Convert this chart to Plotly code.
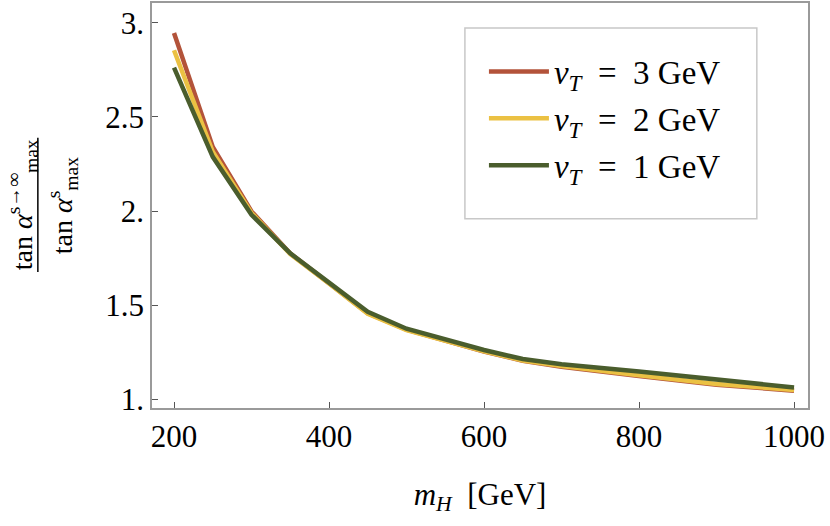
import plotly.graph_objects as go

# data
m_H = [200, 250, 300, 350, 400, 450, 500, 600, 650, 700, 800, 900, 1000]
ratio_vT3 = [2.946, 2.341, 1.998, 1.775, 1.617, 1.457, 1.370, 1.254, 1.205, 1.173, 1.124, 1.078, 1.046]
ratio_vT2 = [2.854, 2.315, 1.990, 1.772, 1.615, 1.455, 1.368, 1.255, 1.206, 1.177, 1.128, 1.082, 1.050]
ratio_vT1 = [2.762, 2.288, 1.980, 1.775, 1.620, 1.465, 1.375, 1.262, 1.214, 1.186, 1.148, 1.105, 1.063]

series_names = ["<i>v</i><sub><i>T</i></sub>  =  3 GeV",
                "<i>v</i><sub><i>T</i></sub>  =  2 GeV",
                "<i>v</i><sub><i>T</i></sub>  =  1 GeV"]
series_colors = ["#B3533A", "#EBC143", "#4A5D2D"]

x_tickvals = [200, 400, 600, 800, 1000]
x_ticktext = ["200", "400", "600", "800", "1000"]
y_tickvals = [1, 1.5, 2, 2.5, 3]
y_ticktext = ["1.", "1.5", "2.", "2.5", "3."]

FONT = "Liberation Serif"

fig = go.Figure()
for i, (vals, name, col) in enumerate(zip([ratio_vT3, ratio_vT2, ratio_vT1], series_names, series_colors)):
    fig.add_trace(go.Scatter(x=m_H, y=vals, mode="lines", name=name,
                             line=dict(color=col, width=4.5), legendgroup=f"g{i}"))

axis_common = dict(showline=True, linecolor="#9a9a9a", linewidth=1.5, mirror=True,
                   ticks="inside", ticklen=6, tickcolor="#555555", tickwidth=1,
                   showgrid=False, zeroline=False, automargin=False,
                   tickfont=dict(family=FONT, size=31, color="black"))

fig.update_xaxes(range=[171.6, 1018], tickvals=x_tickvals, ticktext=x_ticktext,
                 title=dict(text="<i>m</i><sub><i>H</i></sub>  [GeV]",
                            font=dict(family=FONT, size=31, color="black"), standoff=30),
                 **axis_common)
fig.update_yaxes(range=[0.954, 3.105], tickvals=y_tickvals, ticktext=y_ticktext,
                 **axis_common)

# y-axis label as a fraction
fig.add_annotation(text="tan <i>α</i><sup>s→∞</sup><sub>max</sub>", xref="paper", yref="paper",
                   x=-0.198, y=0.501, xanchor="center", yanchor="middle",
                   textangle=-90, showarrow=False,
                   font=dict(family=FONT, size=28, color="black"))
fig.add_annotation(text="tan <i>α</i><sup>s</sup><sub>max</sub>", xref="paper", yref="paper",
                   x=-0.137, y=0.501, xanchor="center", yanchor="middle",
                   textangle=-90, showarrow=False,
                   font=dict(family=FONT, size=28, color="black"))
fig.add_shape(type="line", xref="paper", yref="paper", x0=-0.174, x1=-0.174,
              y0=0.336, y1=0.667, line=dict(color="black", width=1.5))

# legend frame
fig.add_shape(type="rect", xref="paper", yref="paper", x0=0.477, x1=0.922, y0=0.467, y1=0.938,
              line=dict(color="#c8c8c8", width=1.5), fillcolor="rgba(0,0,0,0)", layer="below")

fig.update_layout(
    width=830, height=526,
    margin=dict(l=152, r=22, t=3, b=118, autoexpand=False),
    plot_bgcolor="white", paper_bgcolor="white",
    showlegend=True,
    legend=dict(x=0.506, y=0.90, xanchor="left", yanchor="top",
                bgcolor="rgba(0,0,0,0)", borderwidth=0,
                font=dict(family=FONT, size=33, color="black"),
                itemwidth=60, tracegroupgap=1),
)

fig.write_html("out.html", config={"displayModeBar": False},
               post_script="document.body.style.margin='0px';")
